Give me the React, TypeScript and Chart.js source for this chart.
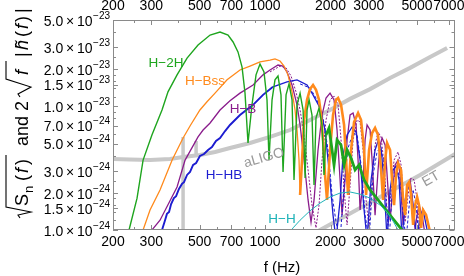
import React, { useEffect, useRef } from "react";
import { Chart, registerables } from "chart.js";

Chart.register(...registerables);

// ---------- axis ticks ----------
const X_MAJOR = [200, 300, 500, 700, 1000, 2000, 3000, 5000, 7000];
const X_MINOR = [250, 400, 600, 800, 900, 1500, 2500, 4000, 6000];
const Y_MAJOR = [1e-24, 1.5e-24, 2e-24, 3e-24, 5e-24, 7e-24, 1e-23, 1.5e-23, 2e-23, 3e-23, 5e-23];
const Y_MANT = ["1.0", "1.5", "2.0", "3.0", "5.0", "7.0", "1.0", "1.5", "2.0", "3.0", "5.0"];
const Y_EXP = ["\u221224", "\u221224", "\u221224", "\u221224", "\u221224", "\u221224", "\u221223", "\u221223", "\u221223", "\u221223", "\u221223"];
const Y_MINOR = [1.2e-24, 1.4e-24, 1.6e-24, 1.8e-24, 2.5e-24, 4e-24, 6e-24, 8e-24, 9e-24, 1.2e-23, 1.4e-23, 1.6e-23, 1.8e-23, 2.5e-23, 4e-23];

// ---------- series: [f (Hz), amplitude in units of 1e-24] ----------
const H2H = [[230,0.76],[237,1.0],[258,1.81],[275,3.68],[302,5.87],[336,9.35],[358,13.1],[394,18.0],[438,24.6],[492,31.4],[559,37.8],[621,40.0],[676,37.8],[713,33.2],[751,27.6],[784,20.8],[809,12.8],[835,5.06],[871,10.3],[909,18.0],[948,22.0],[989,19.0],[1021,11.3],[1043,3.68],[1077,11.3],[1111,16.4],[1147,17.6],[1184,12.4],[1210,2.95],[1249,12.4],[1289,15.2],[1331,11.3],[1359,2.54],[1403,10.3],[1449,12.8],[1496,9.35],[1528,2.63],[1560,9.35],[1594,11.3],[1644,8.52],[1680,2.31],[1715,8.06],[1771,9.71],[1828,7.07],[1867,2.79],[1907,5.87],[1969,6.69],[2033,4.44],[2076,3.36],[2143,5.35],[2236,4.87],[2309,3.36],[2383,4.44],[2486,3.82],[2594,3.06],[2706,3.36],[2853,2.54],[3040,2.11],[3308,1.75],[3601,1.45],[3919,1.2],[4266,1.0],[4451,0.86]];

const HBSS = [[269,0.83],[275,1.0],[296,1.45],[329,2.11],[374,3.68],[420,5.55],[452,6.94],[502,9.35],[541,10.9],[589,12.8],[669,16.4],[767,19.7],[853,21.2],[948,22.9],[1054,23.7],[1111,24.2],[1172,23.3],[1223,21.2],[1275,18.0],[1331,13.1],[1374,9.35],[1403,6.44],[1433,3.68],[1449,1.92],[1480,3.68],[1512,7.76],[1560,11.3],[1610,13.8],[1662,14.9],[1715,13.6],[1771,11.3],[1809,8.52],[1848,5.35],[1887,2.79],[1927,1.75],[1990,4.44],[2054,8.52],[2120,11.3],[2166,11.7],[2236,10.3],[2309,7.07],[2358,3.68],[2408,1.92],[2486,4.44],[2566,7.48],[2677,8.84],[2764,7.76],[2853,4.44],[2914,1.92],[3008,4.44],[3105,6.09],[3205,6.69],[3308,5.87],[3416,3.06],[3489,1.75],[3564,3.68],[3640,5.06],[3757,4.44],[3837,2.54],[3919,1.59],[4003,2.79],[4088,3.48],[4221,3.06],[4312,1.75],[4404,1.32],[4498,2.31],[4594,2.44],[4693,1.92],[4794,1.10],[4896,1.59],[5001,1.85],[5107,1.59],[5217,1.04],[5329,1.45],[5500,1.32],[5739,0.96]];

const HB = [[296,0.83],[302,1.0],[329,1.2],[394,2.23],[429,3.68],[492,5.66],[519,6.44],[559,7.34],[621,9.35],[690,11.1],[767,12.8],[881,14.9],[979,18.0],[1054,19.7],[1147,21.6],[1210,21.2],[1262,19.0],[1331,14.9],[1403,10.3],[1449,7.07],[1512,3.68],[1577,1.75],[1627,1.16],[1680,1.75],[1752,4.44],[1828,8.52],[1907,11.7],[1990,12.8],[2076,11.3],[2143,6.44],[2213,2.54],[2260,1.32],[2333,2.54],[2383,5.35],[2460,8.52],[2539,8.84],[2621,7.07],[2677,3.68],[2735,1.45],[2823,2.54],[2884,5.35],[2945,7.07],[3040,6.44],[3105,3.68],[3205,1.32],[3308,3.06],[3380,4.87],[3452,5.55],[3564,4.87],[3640,2.79],[3757,1.2],[3878,2.31],[3961,3.36],[4088,3.68],[4177,2.79],[4312,1.1],[4451,1.75],[4545,2.31],[4644,2.54],[4743,1.92],[4896,1.0],[5001,1.32],[5107,1.59],[5272,1.32],[5442,0.91]];
// neighbouring (fanned) H-B traces
const HB_2 = [[1054,19.0],[1172,21.2],[1249,20.5],[1317,17.6],[1388,13.1],[1449,9.35],[1512,5.87],[1577,3.06],[1644,1.59],[1715,1.04],[1771,1.59],[1828,3.68],[1907,7.76],[1990,11.3],[2076,12.1],[2166,10.3],[2236,5.35],[2309,2.11],[2383,1.10],[2460,2.31],[2539,5.35],[2649,7.76],[2735,7.48],[2823,4.44],[2914,1.75],[3008,1.04],[3105,2.54],[3205,4.87],[3308,6.21],[3416,5.66],[3526,3.36],[3678,1.10],[3797,2.11],[3919,3.68],[4088,4.28],[4221,3.36],[4404,1.16],[4545,1.92],[4693,2.63],[4845,2.54],[5001,1.75],[5162,0.96]];

const HHB = [[329,0.86],[336,1.0],[347,1.2],[354,1.35],[362,1.40],[370,1.62],[381,1.81],[390,1.88],[402,2.15],[415,2.36],[424,2.44],[438,2.79],[452,2.95],[467,3.36],[482,3.48],[502,3.97],[524,4.12],[547,4.44],[570,4.69],[595,5.25],[621,5.55],[655,6.32],[690,7.07],[767,8.52],[881,10.3],[979,12.4],[1088,14.4],[1262,15.8],[1403,16.4],[1560,14.9],[1662,12.4],[1790,9.71],[1887,6.44],[1969,3.06],[2054,1.32],[2120,0.83],[2213,1.75],[2284,4.04],[2383,5.87],[2513,6.81],[2621,6.21],[2735,3.68],[2853,1.45],[2945,0.83],[3072,2.54],[3205,4.44],[3308,5.25],[3416,4.61],[3526,2.31],[3640,0.83],[3757,2.11],[3878,3.06],[4003,3.29],[4132,2.54],[4266,0.83],[4404,1.75],[4545,2.23],[4693,2.11],[4845,1.32],[5001,0.83],[5162,1.32],[5329,1.45],[5500,1.1],[5677,0.83]];
const HHB_2 = [[1449,15.2],[1610,14.1],[1734,11.3],[1848,8.06],[1948,4.44],[2033,1.92],[2120,1.16],[2213,0.83],[2309,2.31],[2408,4.61],[2539,6.09],[2649,5.87],[2764,3.36],[2884,1.32],[3008,0.83],[3138,2.79],[3273,4.28],[3380,4.61],[3489,3.82],[3601,1.75],[3717,0.83],[3878,2.54],[4045,3.06],[4177,2.63],[4312,1.32],[4451,0.83],[4644,1.92],[4794,2.11],[4948,1.59],[5107,0.83]];

const HH = [[1303,0.96],[1345,1.04],[1449,1.2],[1610,1.43],[1790,1.65],[1990,1.85],[2213,1.99],[2460,2.03],[2735,1.95],[3040,1.81],[3380,1.59],[3640,1.40],[3878,1.18],[4088,1.0],[4221,0.89]];

const ALIGO = [[200,3.75],[239,3.72],[296,3.68],[366,3.75],[420,3.90],[502,4.04],[589,4.28],[690,4.61],[853,5.06],[1054,5.66],[1303,6.44],[1610,7.76],[1990,9.35],[2460,11.5],[3040,13.8],[3757,17.0],[4644,20.5],[5739,25.1],[6870,29.7]];
const ALIGO_LINE1 = [[420,0.8],[420,5.66]];
const ALIGO_LINE2 = [[482,3.97],[482,5.25]];

const ET = [[1610,0.89],[1790,1.0],[2213,1.23],[2735,1.51],[3380,1.85],[4177,2.27],[5162,2.79],[6380,3.48],[7478,4.12]];

const UNIT = 1e-24;
const X_MIN = 200, X_MAX = 7430, Y_MIN = 1e-24, Y_MAX = 5e-23;

const GREEN = "#1ea51e";
const ORANGE = "#ff8a1c";
const PURPLE = "#8a1c8c";
const BLUE = "#1c1cd0";
const CYAN = "#1fb3b8";
const GRAY = "#c8c8c8";
const FONT = '"Liberation Sans", Arial, sans-serif';

const pts = (a: number[][]) => a.map(([f, h]) => ({ x: f, y: h * UNIT }));

const decor = {
  id: "decor",
  afterDraw(chart: any) {
    const { ctx, chartArea: a, scales } = chart;
    const xs = scales.x, ys = scales.y;
    ctx.save();
    ctx.strokeStyle = "#8a8a8a";
    ctx.lineWidth = 1;
    ctx.strokeRect(Math.round(a.left) + 0.5, Math.round(a.top) + 0.5, Math.round(a.right - a.left) - 1, Math.round(a.bottom - a.top) - 1);
    const tickX = (v: number, len: number) => {
      const p = Math.round(xs.getPixelForValue(v)) + 0.5;
      ctx.beginPath();
      ctx.moveTo(p, a.bottom); ctx.lineTo(p, a.bottom - len);
      ctx.moveTo(p, a.top); ctx.lineTo(p, a.top + len);
      ctx.stroke();
    };
    const tickY = (v: number, len: number) => {
      const p = Math.round(ys.getPixelForValue(v)) + 0.5;
      ctx.beginPath();
      ctx.moveTo(a.left, p); ctx.lineTo(a.left + len, p);
      ctx.moveTo(a.right, p); ctx.lineTo(a.right - len, p);
      ctx.stroke();
    };
    X_MAJOR.forEach((v) => tickX(v, 5));
    X_MINOR.forEach((v) => tickX(v, 3));
    Y_MAJOR.forEach((v) => tickY(v, 5));
    Y_MINOR.forEach((v) => tickY(v, 3));

    ctx.fillStyle = "#000";
    ctx.font = `14px ${FONT}`;
    ctx.textAlign = "center";
    ctx.textBaseline = "middle";
    X_MAJOR.forEach((v) => {
      const p = xs.getPixelForValue(v);
      ctx.fillText(String(v), p, 242);
      ctx.fillText(String(v), p, 6);
    });
    Y_MAJOR.forEach((v, i) => {
      const p = ys.getPixelForValue(v);
      ctx.font = `10px ${FONT}`;
      ctx.textAlign = "right";
      const ew = ctx.measureText(Y_EXP[i]).width;
      ctx.fillText(Y_EXP[i], 110, p - 4);
      ctx.font = `14px ${FONT}`;
      ctx.fillText(Y_MANT[i] + "\u2009\u00d7\u200910", 110 - ew - 0.5, p + 2);
    });
    ctx.textAlign = "center";
    ctx.font = `15px ${FONT}`;
    ctx.fillText("f (Hz)", 282, 268);

    // y title
    ctx.save();
    ctx.translate(28, 218);
    ctx.rotate(-Math.PI / 2);
    ctx.textAlign = "left";
    ctx.textBaseline = "alphabetic";
    ctx.strokeStyle = "#000";
    ctx.lineWidth = 1.1;
    const put = (t: string, u: number, font: string, dv = 0) => {
      ctx.font = font;
      ctx.fillText(t, u, dv);
    };
    const radical = (u0: number, w: number, u1: number) => {
      ctx.beginPath();
      ctx.moveTo(u0, -8);
      ctx.lineTo(u0 + 3, -10);
      ctx.lineTo(u0 + w * 0.55, 3);
      ctx.lineTo(u0 + w, -22);
      ctx.lineTo(u1, -22);
      ctx.stroke();
    };
    const R = `18px ${FONT}`;
    const I = `italic 18px ${FONT}`;
    radical(0, 11, 63);
    put("S", 12, R);
    put("n", 25, `13px ${FONT}`, 5);
    put("(", 37, R);
    put("f", 45, I);
    put(")", 53, R);
    put("and", 72, R);
    put("2", 107, R);
    radical(121, 18, 157);
    put("f", 143, I);
    put("|", 161, R);
    put("h\u0303", 168, I);
    put("(", 181, R);
    put("f", 189, I);
    put(")", 196, R);
    put("|", 205, R);
    ctx.restore();

    ctx.textAlign = "center";
    ctx.textBaseline = "middle";
    ctx.font = `13.5px ${FONT}`;
    ctx.fillStyle = GREEN; ctx.fillText("H\u22122H", 166, 63);
    ctx.fillStyle = ORANGE; ctx.fillText("H\u2212Bss", 205, 81);
    ctx.fillStyle = PURPLE; ctx.fillText("H\u2212B", 243, 109);
    ctx.fillStyle = BLUE; ctx.fillText("H\u2212HB", 224, 175);
    ctx.fillStyle = CYAN; ctx.fillText("H\u2212H", 282, 219);
    ctx.fillStyle = "#9a9a9a";
    ctx.font = `14px ${FONT}`;
    ctx.save(); ctx.translate(264, 158); ctx.rotate(-0.28); ctx.fillText("aLIGO", 0, 0); ctx.restore();
    ctx.save(); ctx.translate(431, 179); ctx.rotate(-0.52); ctx.fillText("ET", 0, 0); ctx.restore();
    ctx.restore();
  },
};

export default function App() {
  const ref = useRef<HTMLCanvasElement>(null);
  useEffect(() => {
    const line = (data: number[][], color: string, width: number, order: number, extra: any = {}) => ({
      data: pts(data),
      borderColor: color,
      backgroundColor: color,
      borderWidth: width,
      pointRadius: 0,
      tension: 0,
      fill: false,
      order,
      ...extra,
    });
    const chart = new Chart(ref.current as HTMLCanvasElement, {
      type: "line",
      data: {
        datasets: [
          line(HH, CYAN, 1, 1),
          line(H2H, GREEN, 1.4, 2, { segment: { borderWidth: (c: any) => (c.p0.parsed.x > 1880 ? 2.8 : 1.4) } }),
          line(HBSS, ORANGE, 1.3, 3, { segment: { borderWidth: (c: any) => (c.p0.parsed.x > 1440 ? 2.6 : 1.3) } }),
          line(HHB, BLUE, 1.8, 4, { segment: { borderWidth: (c: any) => (c.p0.parsed.x > 1000 ? 1.3 : 1.9) } }),
          line(HHB_2, BLUE, 1, 5, { borderDash: [3, 2] }),
          line(HB, PURPLE, 1.3, 6),
          line(HB_2, PURPLE, 1, 7, { borderDash: [2, 1.5] }),
          line(ALIGO, GRAY, 4, 10),
          line(ALIGO_LINE1, GRAY, 3.5, 11),
          line(ALIGO_LINE2, GRAY, 3.5, 12),
          line(ET, GRAY, 4, 13),
        ],
      },
      options: {
        animation: false,
        responsive: false,
        devicePixelRatio: 1,
        events: [],
        layout: { padding: { left: 113, right: 9.5, top: 20, bottom: 46 } },
        plugins: { legend: { display: false }, tooltip: { enabled: false } },
        scales: {
          x: { type: "logarithmic", min: X_MIN, max: X_MAX, display: false },
          y: { type: "logarithmic", min: Y_MIN, max: Y_MAX, display: false },
        },
      },
      plugins: [decor],
    } as any);
    return () => chart.destroy();
  }, []);
  return (
    <div style={{ position: "fixed", left: 0, top: 0, width: 464, height: 276, background: "#fff" }}>
      <canvas ref={ref} width={464} height={276} style={{ display: "block", width: 464, height: 276 }} />
    </div>
  );
}
